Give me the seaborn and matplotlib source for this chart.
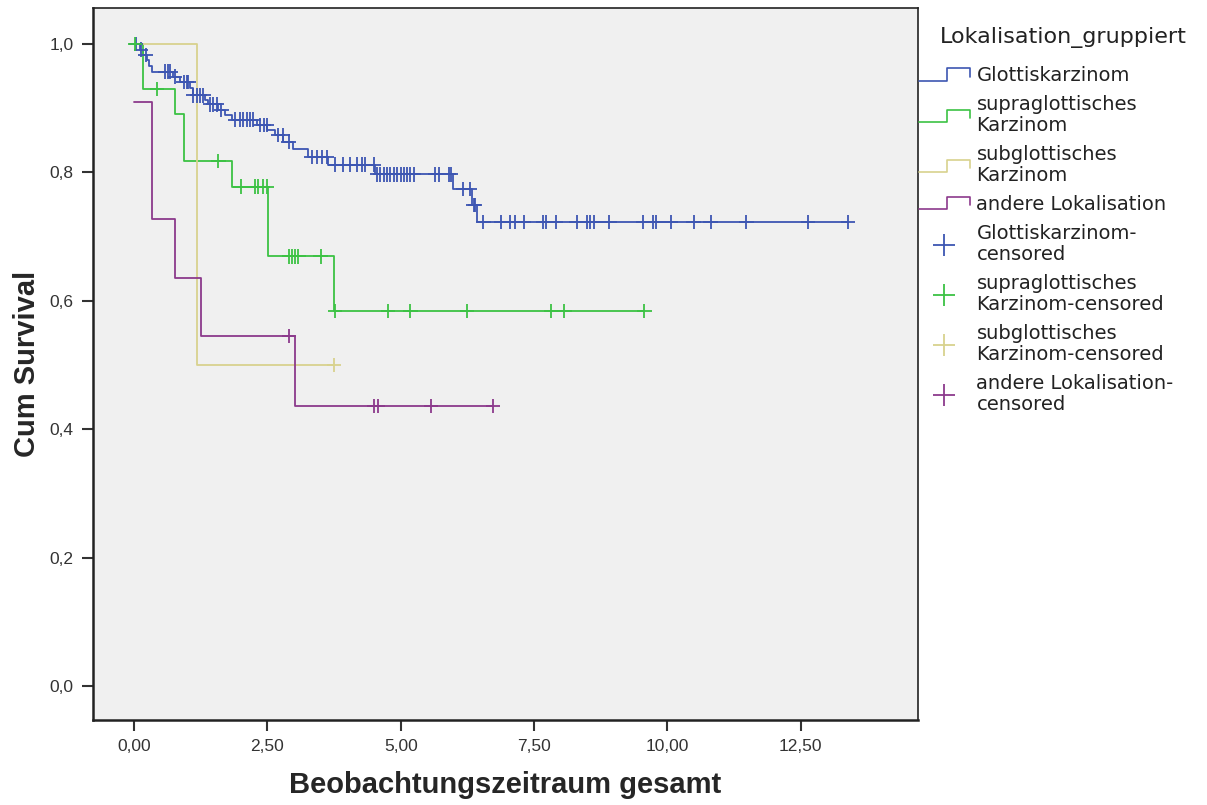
import numpy as np
import pandas as pd
import seaborn as sns
import matplotlib.pyplot as plt
from matplotlib.lines import Line2D
from matplotlib.legend_handler import HandlerBase
from matplotlib.ticker import FuncFormatter

sns.set_style('ticks')
plt.rcParams['font.family'] = ['Liberation Sans', 'DejaVu Sans']

# Gruppen
groups = ['Glottiskarzinom', 'supraglottisches\nKarzinom', 'subglottisches\nKarzinom', 'andere Lokalisation']
censor_labels = ['Glottiskarzinom-\ncensored', 'supraglottisches\nKarzinom-censored',
                 'subglottisches\nKarzinom-censored', 'andere Lokalisation-\ncensored']
colors = ['#3d56b2', '#3cc244', '#d8d28e', '#8c3a8c']

# Stufen der Überlebenskurven (Zeit, Cum Survival)
glottis_t = [0.00, 0.11, 0.17, 0.24, 0.28, 0.33, 0.74, 0.86, 1.05, 1.11, 1.33, 1.39, 1.58,
             1.71, 1.83, 2.30, 2.50, 2.64, 2.80, 2.99, 3.27, 3.64, 4.52, 5.99, 6.34, 6.43]
glottis_s = [1.000, 0.991, 0.983, 0.975, 0.966, 0.957, 0.949, 0.941, 0.932, 0.920, 0.913, 0.906,
             0.897, 0.889, 0.882, 0.874, 0.866, 0.858, 0.848, 0.836, 0.824, 0.812, 0.797, 0.774,
             0.749, 0.723]
glottis_c = [0.04, 0.13, 0.22, 0.58, 0.63, 0.68, 0.77, 0.93, 0.99, 1.02, 1.11, 1.18, 1.24, 1.30,
             1.43, 1.49, 1.55, 1.64, 1.89, 1.99, 2.05, 2.11, 2.18, 2.24, 2.36, 2.43, 2.49, 2.70,
             2.79, 2.90, 3.33, 3.43, 3.52, 3.61, 3.77, 3.92, 4.05, 4.18, 4.27, 4.33, 4.50, 4.56,
             4.62, 4.68, 4.74, 4.80, 4.87, 4.93, 5.00, 5.06, 5.12, 5.18, 5.25, 5.65, 5.71, 5.90,
             5.94, 6.17, 6.30, 6.37, 6.39, 6.55, 6.89, 7.05, 7.14, 7.31, 7.67, 7.73, 7.91, 8.30,
             8.49, 8.55, 8.63, 8.91, 9.55, 9.73, 9.79, 10.06, 10.49, 10.81, 11.48, 12.64, 13.39]

supra_t = [0.00, 0.17, 0.76, 0.94, 1.84, 2.51, 3.75]
supra_s = [1.000, 0.930, 0.891, 0.818, 0.778, 0.669, 0.584]
supra_c = [0.02, 0.43, 1.58, 2.00, 2.26, 2.33, 2.41, 2.49, 2.91, 2.97, 3.02, 3.08, 3.50, 3.77,
           4.76, 5.18, 6.24, 7.82, 8.07, 9.57]

sub_t = [0.00, 1.18]
sub_s = [1.000, 0.500]
sub_c = [3.75]

andere_t = [0.00, 0.33, 0.77, 1.26, 3.02]
andere_s = [0.909, 0.727, 0.636, 0.545, 0.436]
andere_c = [2.91, 4.50, 4.57, 5.57, 6.73]

x_ticks = [0, 2.5, 5, 7.5, 10, 12.5]
y_ticks = [0.0, 0.2, 0.4, 0.6, 0.8, 1.0]

steps = [(glottis_t, glottis_s, glottis_c), (supra_t, supra_s, supra_c),
         (sub_t, sub_s, sub_c), (andere_t, andere_s, andere_c)]

# Daten aufbereiten
line_rows = []
cens_rows = []
for g, (t, s, c) in zip(groups, steps):
    t = np.array(t); s = np.array(s)
    for ti, si in zip(t, s):
        line_rows.append((g, ti, si))
    # Kurve bis zur letzten Beobachtung verlängern
    line_rows.append((g, max(t.max(), max(c)), s[-1]))
    idx = np.searchsorted(t, c, side='right') - 1
    for ci, si in zip(c, s[idx]):
        cens_rows.append((g, ci, si))

lines = pd.DataFrame(line_rows, columns=['group', 'time', 'surv'])
cens = pd.DataFrame(cens_rows, columns=['group', 'time', 'surv'])
pal = dict(zip(groups, colors))

fig = plt.figure(figsize=(12.07, 8.05), dpi=100)
ax = fig.add_axes([0.077, 0.1056, 0.6836, 0.8844])
ax.set_facecolor('#f0f0f0')

sns.lineplot(data=lines, x='time', y='surv', hue='group', palette=pal, estimator=None,
             sort=False, drawstyle='steps-post', linewidth=1.3, legend=False, ax=ax)
sns.scatterplot(data=cens, x='time', y='surv', hue='group', palette=pal, marker='+',
                s=110, linewidth=1.3, legend=False, ax=ax, zorder=3)

ax.set_xlim(-0.77, 14.7)
ax.set_ylim(-0.053, 1.056)
ax.set_xticks(x_ticks)
ax.set_yticks(y_ticks)
ax.xaxis.set_major_formatter(FuncFormatter(lambda v, p: f'{v:.2f}'.replace('.', ',')))
ax.yaxis.set_major_formatter(FuncFormatter(lambda v, p: f'{v:.1f}'.replace('.', ',')))
ax.tick_params(direction='out', length=8, width=1.5, color='#333333', labelsize=12.5,
               labelcolor='#333333', pad=6)
for sp in ax.spines.values():
    sp.set_visible(True)
    sp.set_color('#222222')
    sp.set_linewidth(1.2)
ax.spines['left'].set_linewidth(1.8)
ax.spines['bottom'].set_linewidth(1.8)

ax.set_xlabel('Beobachtungszeitraum gesamt', fontsize=21, fontweight='bold', labelpad=12)
ax.set_ylabel('Cum Survival', fontsize=21, fontweight='bold', labelpad=6)


# Legenden-Symbol als Stufe
class StepHandler(HandlerBase):
    def create_artists(self, legend, orig_handle, xdescent, ydescent, width, height, fontsize, trans):
        x0, y0 = -xdescent, -ydescent
        xs = [x0, x0 + 0.55 * width, x0 + 0.55 * width, x0 + width, x0 + width]
        ys = [y0 + 0.05 * height, y0 + 0.05 * height, y0 + 0.95 * height, y0 + 0.95 * height, y0 + 0.35 * height]
        ln = Line2D(xs, ys, color=orig_handle.get_color(), lw=1.2, transform=trans)
        return [ln]


step_handles = [Line2D([], [], color=c) for c in colors]
plus_handles = [Line2D([], [], color=c, marker='+', linestyle='None', markersize=16, mew=1.3)
                for c in colors]
hmap = {h: StepHandler() for h in step_handles}

fig.text(940 / 1207, 1 - 37 / 805, 'Lokalisation_gruppiert', fontsize=16, va='center',
         family='DejaVu Sans', color='#222222')
leg = fig.legend(step_handles + plus_handles, groups + censor_labels, handler_map=hmap,
                 loc='upper left', bbox_to_anchor=(0.7615, 0.9175),
                 frameon=False, prop={'family': 'DejaVu Sans', 'size': 14}, handlelength=2.6,
                 handletextpad=0.35, labelspacing=0.5, borderaxespad=0, borderpad=0)
for txt in leg.get_texts():
    txt.set_linespacing(1.15)
    txt.set_color('#222222')

fig.savefig('out.png', dpi=100)
